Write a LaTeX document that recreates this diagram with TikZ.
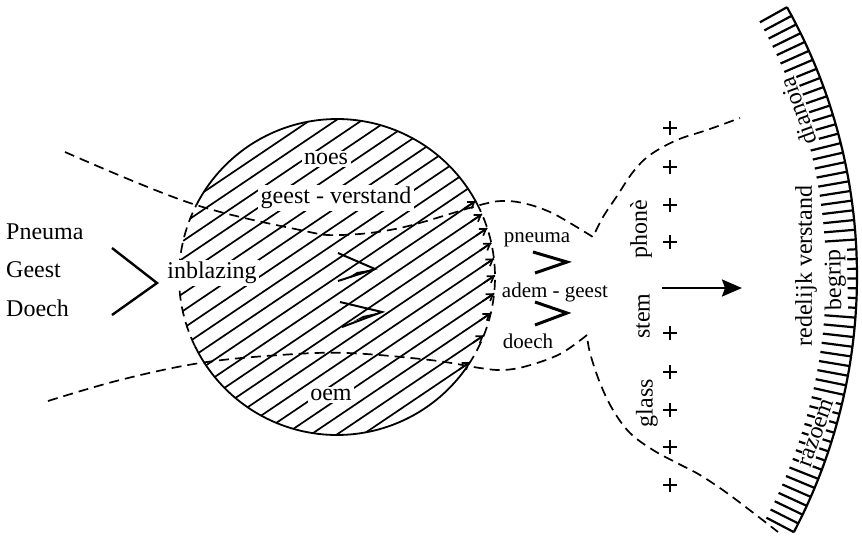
\documentclass[tikz,border=0pt]{standalone}
\usepackage{fontspec}
\setmainfont{Liberation Serif}
\usetikzlibrary{arrows.meta,calc}
\begin{document}
\begin{tikzpicture}[x=1pt,y=-1pt,
  lab/.style={font=\fontsize{24}{26}\selectfont, inner sep=1pt},
  slab/.style={font=\fontsize{21}{23}\selectfont, inner sep=1pt},
  wlab/.style={lab, fill=white, inner sep=2.5pt},
  alab/.style={lab, fill=white, inner sep=1.5pt},
  hatch/.style={line width=1.7pt},
  cline/.style={line width=1.8pt},
  dline/.style={line width=1.7pt, dash pattern=on 10pt off 6pt},
  chev/.style={line width=2.4pt, line join=miter},
  chevb/.style={line width=3pt, line join=miter},
  plus/.style={line width=2.8pt},
  tick/.style={line width=2.2pt},
  zz/.style={line width=2pt, line join=miter}]
\useasboundingbox (0,0) rectangle (862,536);

% ---- hatching inside the circle
\begin{scope}[shift={(337,277)}, rotate=34]
\foreach \k in {-10,...,10}{
  \pgfmathsetmacro\t{100*sqrt(1.58*1.58-(\k*0.145)*(\k*0.145))}
  \draw[hatch] (-\t,\k*14.5) -- (\t,\k*14.5);
}
\foreach \k in {1,...,10}{
  \pgfmathsetmacro\t{100*sqrt(1.58*1.58-(\k*0.145)*(\k*0.145))}
  \draw[hatch, -{Straight Barb[length=6pt,width=8pt]}] (\t-14,\k*14.5) -- (\t,\k*14.5);
}
\end{scope}

% ---- circle outline: solid top and bottom, dashed left and right
\draw[cline] plot[domain=207:332, samples=70, variable=\a] ({337+158*cos(\a)},{277+158*sin(\a)});
\draw[cline] plot[domain=35:154, samples=70, variable=\a] ({337+158*cos(\a)},{277+158*sin(\a)});
\draw[dline] plot[domain=-28:35, samples=50, variable=\a] ({337+158*cos(\a)},{277+158*sin(\a)});
\draw[dline] plot[domain=154:207, samples=50, variable=\a] ({337+158*cos(\a)},{277+158*sin(\a)});

% ---- labels inside the circle
\node[wlab] (noes) at (326,159) {noes};
\node[wlab] (gv) at (336,198) {geest - verstand};
\node[wlab] (oem) at (331,395) {oem};
\node[wlab] (inb) at (212,273) {inblazing};

% ---- zigzag arrows
\draw[zz] (338,253) -- (375,269) -- (338,281);
\fill (375,269) -- (357,272) -- (349,277) -- cycle;
\draw[zz] (340,302) -- (382,312) -- (342,327);
\fill (382,312) -- (363,316) -- (354,321) -- cycle;

% ---- dashed stream lines
\draw[dline] plot[smooth, tension=0.6] coordinates {(65,152) (190,203) (300,230) (340,235) (400,228) (480,205) (505,201) (527,204) (550,212) (570,223) (593,237)}
  -- plot[smooth, tension=0.6] coordinates {(593,237) (603,217) (617,196) (633,172) (650,155) (677,140) (707,130) (740,118)};
\draw[dline] plot[smooth, tension=0.6] coordinates {(48,401) (120,380) (200,363) (280,355) (347,353) (430,360) (480,368) (503,370) (527,366) (560,354) (587,335)}
  -- plot[smooth, tension=0.6] coordinates {(587,335) (590,353) (600,383) (613,410) (630,433) (653,450) (677,463) (700,475) (727,493) (760,518) (778,532)};

% ---- left labels
\node[lab, anchor=west] (pn) at (5,232) {Pneuma};
\node[lab, anchor=west] (ge) at (5,270) {Geest};
\node[lab, anchor=west] (dc) at (5,308) {Doech};
\draw[chev] (112,248) -- (157,283) -- (112,315);

% ---- middle right labels
\node[slab] (pn2) at (537,240) {pneuma};
\draw[chevb] (533,252) -- (567,262) -- (535,273);
\node[slab] (ag) at (555,292) {adem - geest};
\draw[chevb] (535,302) -- (567,313) -- (535,325);
\node[slab] (do2) at (528,341) {doech};

\node[lab, rotate=90] (ph) at (641,229) {phonè};
\node[lab, rotate=90] (st) at (643,316) {stem};
\node[lab, rotate=90] (gl) at (647,403) {glass};

\foreach \y in {128,167,205,242,333,372,410,447,485}
  \draw[plus] (663,\y) -- (677,\y) (670,\y-7) -- (670,\y+7);

\coordinate (a1) at (662,288);
\coordinate (a2) at (742,288);
\draw[line width=2.2pt, -{Stealth[length=20pt,width=17pt,inset=3pt]}] (a1) -- (a2);

% ---- scale arc
\draw[line width=2.2pt, line join=miter] plot[domain=-29.2:27.7, samples=90, variable=\a] ({306+551*cos(\a)},{276+551*sin(\a)});
\foreach \i in {0,...,56}{
  \pgfmathsetmacro\a{-29.2+\i*56.9/56}
  \draw[tick] ({306+551*cos(\a)},{276+551*sin(\a)}) -- ({306+520*cos(\a)},{276+520*sin(\a)});
}
\node[alab, rotate=110] (dia) at (798,111) {dianoia};
\node[alab, rotate=91] (beg) at (835,280) {begrip};
\node[alab, rotate=90] (rv) at (806,266) {redelijk verstand};
\node[alab, rotate=70] (raz) at (817,433) {razoem};
\end{tikzpicture}
\end{document}
